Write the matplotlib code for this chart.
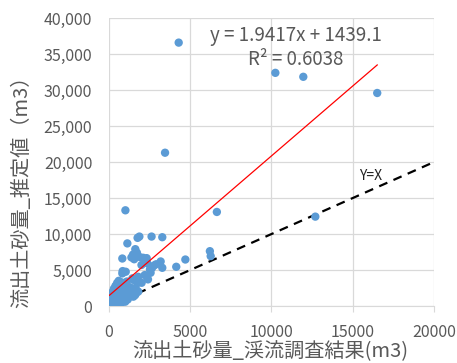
import matplotlib
matplotlib.use("Agg")
import matplotlib.pyplot as plt
from matplotlib.ticker import FuncFormatter, MultipleLocator

plt.rcParams['font.family'] = ['Noto Sans CJK JP', 'DejaVu Sans']

# survey result (x) vs estimated value (y), m3
survey_x = [
    4290, 10240, 11960, 16510, 3450, 1010, 6640, 12700,
    1760, 1870, 2620, 3280, 1130, 1620, 1720, 1480, 1380, 820, 2110, 2320,
    1660, 6210, 6260, 4700, 4140, 3280, 3180, 2770, 2520, 2560, 840, 1030,
    820, 1800, 1540, 2010, 2360, 1440, 1740, 2900, 2650, 1900, 1550, 2000,
    50, 80, 120, 150, 200, 250, 300, 350, 400, 450, 500, 550, 600, 650,
    700, 750, 800, 850, 900, 950, 1000, 1050, 1100, 1150, 1200, 1300, 1350,
    1400, 1500, 1600, 1700, 1800, 100, 200, 300, 400, 500, 600, 700, 450,
    350, 250, 150, 60, 30, 550, 750, 900, 1100, 1250, 1450, 1600, 1650,
    1500, 650, 900, 1150, 400, 700, 1000, 2200, 2400,
]
estimate_y = [
    36600, 32400, 31850, 29600, 21300, 13300, 13070, 12420,
    9470, 9650, 9650, 9560, 8700, 7900, 7400, 7150, 6750, 6600, 6700, 6650,
    7070, 7620, 6930, 6460, 5450, 5310, 6190, 5630, 5080, 4620, 4850, 4760,
    4530, 4060, 3600, 3230, 5930, 3840, 3150, 5800, 5300, 6800, 6500, 5700,
    100, 300, 200, 500, 800, 400, 1000, 600, 1300, 900, 1600, 1100, 2000,
    1400, 2300, 1800, 1200, 2600, 1900, 1500, 2200, 2800, 1700, 2400, 2000,
    2600, 1600, 2200, 1900, 2400, 2200, 2000, 1500, 1900, 2400, 2800, 3200,
    3500, 3000, 2100, 1700, 1200, 900, 600, 200, 2700, 3300, 3100, 3400,
    1300, 1400, 1500, 1700, 1300, 500, 700, 900, 200, 100, 600, 4300, 3700,
]

slope = 1.9417
intercept = 1439.1
r2 = 0.6038

fig = plt.figure(figsize=(4.57, 3.63), dpi=100)
ax = fig.add_axes([0.2385, 0.157, 0.711, 0.793])

grid_c = '#D9D9D9'
text_c = '#595959'

ax.set_xlim(0, 20000)
ax.set_ylim(0, 40000)
ax.xaxis.set_major_locator(MultipleLocator(5000))
ax.yaxis.set_major_locator(MultipleLocator(5000))
ax.yaxis.set_major_formatter(FuncFormatter(lambda v, p: f'{int(v):,}'))
ax.grid(True, color=grid_c, linewidth=0.9)
ax.set_axisbelow(True)
for s in ['top', 'right', 'left']:
    ax.spines[s].set_visible(False)
ax.spines['bottom'].set_color(grid_c)
ax.tick_params(axis='x', colors=grid_c, length=4, labelcolor=text_c, labelsize=11.5, pad=9)
ax.tick_params(axis='y', length=0, labelcolor=text_c, labelsize=11.5, pad=12)

# y = x reference
ax.plot([0, 20000], [0, 20000], color='black', linestyle=(0, (4, 3)), linewidth=1.6, zorder=2)

ax.scatter(survey_x, estimate_y, s=36, color='#5B9BD5', edgecolors='none', zorder=3)

# trendline over the data range
x0, x1 = min(survey_x), max(survey_x)
ax.plot([x0, x1], [slope * x0 + intercept, slope * x1 + intercept], color='red', linewidth=0.9, zorder=4)

ax.text(0.576, 0.94, f'y = {slope}x + {intercept}', transform=ax.transAxes, ha='center', va='center',
        fontsize=13.5, color=text_c)
ax.text(0.576, 0.855, f'R² = {r2}', transform=ax.transAxes, ha='center', va='center',
        fontsize=13.5, color=text_c)
ax.text(0.805, 0.45, 'Y=X', transform=ax.transAxes, ha='center', va='center', fontsize=10, color='#222222')

fig.text(270 / 457, 1 - 351 / 363, '流出土砂量_渓流調査結果(m3)', ha='center', va='center',
         fontsize=14.5, color=text_c)
fig.text(22 / 457, 1 - 187 / 363, '流出土砂量_推定値（m3）', ha='center', va='center', rotation=90,
         fontsize=14.5, color=text_c)

fig.savefig('out.png', dpi=100)
